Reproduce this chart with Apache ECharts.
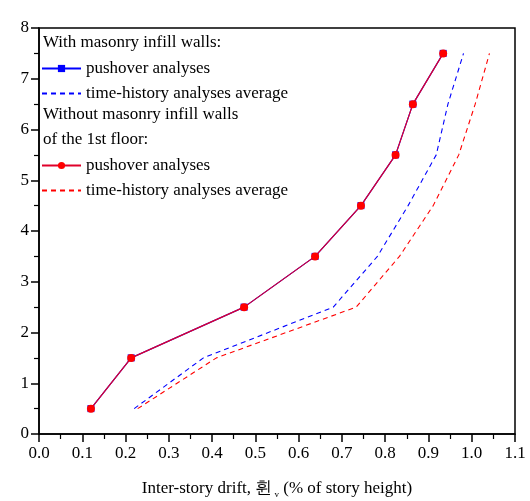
<!DOCTYPE html>
<html>
<head>
<meta charset="utf-8">
<script src="https://cdn.jsdelivr.net/npm/echarts@6/dist/echarts.min.js"></script>
<style>
  html, body { margin: 0; padding: 0; background: #fff; }
  #chart { width: 530px; height: 501px; }
</style>
</head>
<body>
<div id="chart"></div>
<script>
// Story levels (mid-height of each floor)
const storyLevels = [0.5, 1.5, 2.5, 3.5, 4.5, 5.5, 6.5, 7.5];

// Inter-story drift (% of story height)
const pushoverWithInfill = [0.120, 0.213, 0.474, 0.638, 0.744, 0.824, 0.864, 0.934];
const timeHistoryWithInfill = [0.220, 0.380, 0.680, 0.782, 0.853, 0.918, 0.945, 0.981];
const pushoverNoInfill1st = [0.120, 0.213, 0.474, 0.638, 0.744, 0.824, 0.864, 0.934];
const timeHistoryNoInfill1st = [0.228, 0.410, 0.733, 0.833, 0.911, 0.970, 1.008, 1.041];

// Axis ticks
const xTicks = [0.0, 0.1, 0.2, 0.3, 0.4, 0.5, 0.6, 0.7, 0.8, 0.9, 1.0, 1.1];
const yTicks = [0, 1, 2, 3, 4, 5, 6, 7, 8];

const serif = '"Liberation Serif", "Times New Roman", serif';
const fs = 17;

function pairs(xs) {
  return xs.map((x, i) => [x, storyLevels[i]]);
}

const chart = echarts.init(document.getElementById('chart'), null, { renderer: 'canvas' });

const legendText = { fontFamily: serif, fontSize: fs, color: '#000' };
const hideSymbol = { opacity: 0 };

chart.setOption({
  animation: false,
  backgroundColor: '#fff',
  grid: {
    left: 39, right: 15, top: 28, bottom: 67,
    outerBoundsMode: 'none',
    containLabel: false,
    show: true, borderColor: '#000', borderWidth: 1.5
  },
  xAxis: {
    type: 'value',
    min: xTicks[0],
    max: xTicks[xTicks.length - 1],
    interval: 0.1,
    axisLine: { show: true, lineStyle: { color: '#000', width: 1.5 } },
    axisTick: { show: true, length: 8, inside: false, lineStyle: { color: '#000', width: 1.5 } },
    minorTick: { show: true, splitNumber: 2, length: 5, lineStyle: { color: '#000', width: 1.2 } },
    splitLine: { show: false },
    axisLabel: {
      margin: 11, fontFamily: serif, fontSize: fs, color: '#000',
      formatter: v => v.toFixed(1)
    },
    name: '{t|Inter-story drift, 휜}{s| v}{t| (% of story height)}',
    nameLocation: 'middle',
    nameGap: 44,
    nameTextStyle: {
      rich: {
        t: { fontFamily: serif, fontSize: fs, color: '#000' },
        s: { fontFamily: serif, fontSize: 9, color: '#000', verticalAlign: 'bottom', padding: [12, 0, 0, 0] }
      }
    }
  },
  yAxis: {
    type: 'value',
    min: yTicks[0],
    max: yTicks[yTicks.length - 1],
    interval: 1,
    axisLine: { show: true, lineStyle: { color: '#000', width: 1.5 } },
    axisTick: { show: true, length: 8, inside: false, lineStyle: { color: '#000', width: 1.5 } },
    minorTick: { show: true, splitNumber: 2, length: 5, lineStyle: { color: '#000', width: 1.2 } },
    splitLine: { show: false },
    axisLabel: { margin: 10, fontFamily: serif, fontSize: fs, color: '#000' }
  },
  legend: [
    {
      data: [
        { name: 'pushover analyses' },
        { name: 'time-history analyses average', itemStyle: hideSymbol }
      ],
      orient: 'vertical', left: 36, top: 55,
      itemWidth: 39, itemHeight: 9, itemGap: 8,
      textStyle: legendText,
      formatter: name => name
    },
    {
      data: [
        { name: 'pushover analyses ' },
        { name: 'time-history analyses average ', itemStyle: hideSymbol }
      ],
      orient: 'vertical', left: 36, top: 152,
      itemWidth: 39, itemHeight: 9, itemGap: 8,
      textStyle: legendText,
      formatter: name => name.trim()
    }
  ],
  graphic: [
    { type: 'text', left: 43, top: 34, style: { text: 'With masonry infill walls:', font: fs + 'px ' + serif, fill: '#000' } },
    { type: 'text', left: 43, top: 106, style: { text: 'Without masonry infill walls', font: fs + 'px ' + serif, fill: '#000' } },
    { type: 'text', left: 43, top: 131, style: { text: 'of the 1st floor:', font: fs + 'px ' + serif, fill: '#000' } }
  ],
  series: [
    {
      name: 'pushover analyses',
      type: 'line',
      data: pairs(pushoverWithInfill),
      symbol: 'rect', symbolSize: 7,
      itemStyle: { color: '#0000ff' },
      lineStyle: { color: '#0000ff', width: 1.2 },
      z: 2
    },
    {
      name: 'time-history analyses average',
      type: 'line',
      data: pairs(timeHistoryWithInfill),
      showSymbol: false, symbol: 'none',
      itemStyle: { color: '#0000ff' },
      lineStyle: { color: '#0000ff', width: 1.1, type: [5, 4] },
      z: 2
    },
    {
      name: 'pushover analyses ',
      type: 'line',
      data: pairs(pushoverNoInfill1st),
      symbol: 'circle', symbolSize: 8,
      itemStyle: { color: '#ff0000' },
      lineStyle: { color: '#e0002a', width: 1.2 },
      z: 3
    },
    {
      name: 'time-history analyses average ',
      type: 'line',
      data: pairs(timeHistoryNoInfill1st),
      showSymbol: false, symbol: 'none',
      itemStyle: { color: '#ff0000' },
      lineStyle: { color: '#ff0000', width: 1.1, type: [5, 4] },
      z: 2
    }
  ]
});
</script>
</body>
</html>
